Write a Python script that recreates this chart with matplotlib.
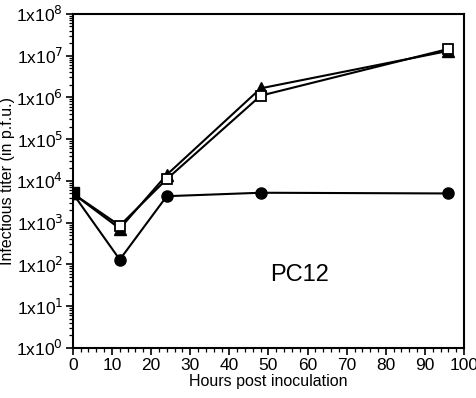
import matplotlib
matplotlib.use('Agg')
import matplotlib.pyplot as plt
from matplotlib.ticker import FixedLocator, MultipleLocator, LogLocator, NullFormatter

plt.rcParams['font.family'] = ['Liberation Sans', 'DejaVu Sans']

hours = [0, 12, 24, 48, 96]
open_square = [5000, 850, 11000, 1100000, 14500000]
triangle = [5000, 720, 14000, 1650000, 13000000]
circle = [5000, 130, 4300, 5200, 5000]
inoculum_t = [0]
inoculum = [5200]

fig = plt.figure(figsize=(4.76, 3.98), dpi=100)
ax = fig.add_axes([0.153, 0.126, 0.822, 0.839])

ax.plot(hours, circle, '-o', color='black', lw=1.5, ms=8, mfc='black')
ax.plot(hours, triangle, '-^', color='black', lw=1.5, ms=8, mfc='black')
ax.plot(hours, open_square, '-s', color='black', lw=1.5, ms=7.5, mfc='white', mew=1.3)
ax.plot(inoculum_t, inoculum, 's', color='black', ms=8)

ax.set_yscale('log')
ax.set_ylim(1, 1e8)
ax.set_xlim(0, 100)
ax.xaxis.set_major_locator(MultipleLocator(10))
ax.xaxis.set_minor_locator(MultipleLocator(2))
ax.yaxis.set_major_locator(FixedLocator([10.0**k for k in range(9)]))
ax.set_yticklabels(['1x10$^{%d}$' % k for k in range(9)])
ax.yaxis.set_minor_locator(LogLocator(base=10, subs=range(2, 10), numticks=20))
ax.yaxis.set_minor_formatter(NullFormatter())

ax.tick_params(which='major', length=5, width=1.2, labelsize=12.5, direction='out', pad=2)
ax.tick_params(which='minor', length=3, width=0.9, direction='out')
for s in ax.spines.values():
    s.set_linewidth(1.5)

ax.set_xlabel('Hours post inoculation', fontsize=11.5, labelpad=1)
ax.set_ylabel('Infectious titer (in p.f.u.)', fontsize=11.5, labelpad=1)
ax.text(58, 56, 'PC12', fontsize=17, ha='center', va='center')

fig.savefig('out.png', dpi=100)
